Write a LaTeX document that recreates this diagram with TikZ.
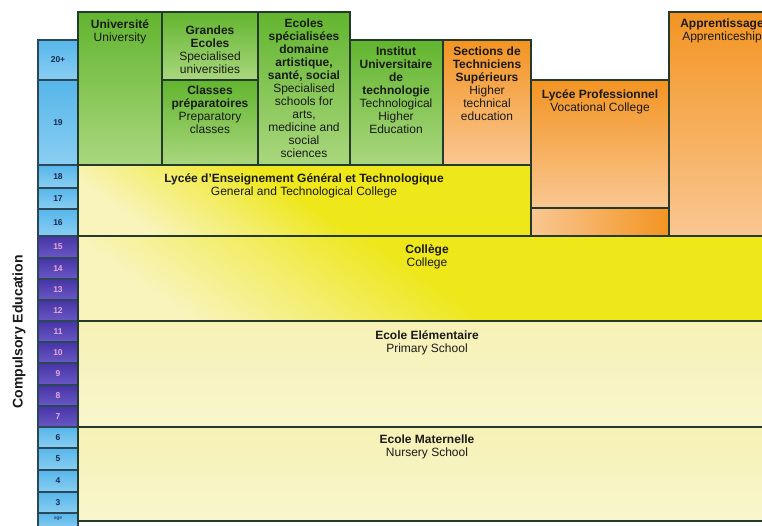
\documentclass[tikz,border=0pt]{standalone}
\usepackage{fontspec}
\setmainfont{Liberation Sans}
\definecolor{frame}{HTML}{243A2C}
\definecolor{ink}{HTML}{1A1A1A}
\definecolor{greenT}{HTML}{62B52F}
\definecolor{greenB}{HTML}{AAD77E}
\definecolor{orangeT}{HTML}{F39422}
\definecolor{orangeB}{HTML}{F9C792}
\definecolor{yel}{HTML}{EEE71A}
\definecolor{paleY}{HTML}{F8F4BC}
\definecolor{cream}{HTML}{F6F1B5}
\definecolor{creamL}{HTML}{F9F6CE}
\definecolor{blueT}{HTML}{56B6EA}
\definecolor{blueB}{HTML}{8ACEF2}
\definecolor{purT}{HTML}{4634A6}
\definecolor{purB}{HTML}{6B58C6}
\definecolor{ageframe}{HTML}{2C4858}
\definecolor{agenum}{HTML}{1B2A52}
\definecolor{agepink}{HTML}{E6A8D8}
\pgfdeclareverticalshading{yelfade}{100bp}{color(0bp)=(paleY); color(25bp)=(paleY); color(38bp)=(yel!50!paleY); color(50bp)=(yel); color(100bp)=(yel)}
\newcommand{\tb}[1]{\textbf{#1}}
\begin{document}
\begin{tikzpicture}[x=1pt,y=-1pt,
  box/.style={draw=frame, line width=1.6pt, rectangle, inner sep=0pt, outer sep=0pt, anchor=north west},
  greenbox/.style={box, top color=greenT, bottom color=greenB},
  orangebox/.style={box, top color=orangeT, bottom color=orangeB},
  yellowbox/.style={box, shading=yelfade, shading angle=-35},
  creambox/.style={box, top color=cream, bottom color=creamL},
  lbl/.style={inner sep=0pt, anchor=north, align=center, text=ink, font=\fontsize{12}{13}\selectfont},
  agecell/.style={draw=ageframe, line width=1.2pt, rectangle, inner sep=0pt, outer sep=0pt,
    anchor=north west, minimum width=40pt, font=\fontsize{8.5}{9}\selectfont\bfseries},
  agelight/.style={agecell, top color=blueT, bottom color=blueB, text=agenum},
  agedark/.style={agecell, top color=purT, bottom color=purB, text=agepink},
]
\useasboundingbox (0,0) rectangle (762,525);
\clip (0,0) rectangle (762,525);
\fill[white] (0,0) rectangle (762,525);

% age scale on the left
\foreach \i/\lab/\ya/\yb/\st in {
  1/20+/40/80/agelight, 2/19/80/165/agelight, 3/18/165/188/agelight,
  4/17/188/209/agelight, 5/16/209/236/agelight,
  6/15/236/258/agedark, 7/14/258/279/agedark, 8/13/279/300/agedark,
  9/12/300/321/agedark, 10/11/321/342/agedark, 11/10/342/363/agedark,
  12/9/363/385/agedark, 13/8/385/406/agedark, 14/7/406/427/agedark,
  15/6/427/448/agelight, 16/5/448/470/agelight, 17/4/470/492/agelight,
  18/3/492/513/agelight}
  \node[\st, minimum height={\yb-\ya}] (age\i) at (38,\ya) {\lab};
\node[agelight, minimum height=16pt, font=\fontsize{5}{5}\selectfont] (age19) at (38,513) {\raisebox{5pt}{age}};

\node[rotate=90, font=\fontsize{14}{14}\selectfont\bfseries, text=ink] (compulsory) at (19,332) {Compulsory Education};

% higher education
\node[greenbox, minimum width=84pt, minimum height=153pt] (univ) at (78,12) {};
\node[greenbox, minimum width=96pt, minimum height=68pt] (grandes) at (162,12) {};
\node[greenbox, minimum width=96pt, minimum height=85pt] (prepa) at (162,80) {};
\node[greenbox, minimum width=92pt, minimum height=153pt] (ecoles) at (258,12) {};
\node[greenbox, minimum width=93pt, minimum height=125pt] (iut) at (350,40) {};
\node[orangebox, minimum width=88pt, minimum height=125pt] (sts) at (443,40) {};
\node[orangebox, minimum width=138pt, minimum height=128pt] (lpro) at (531,80) {};
\node[box, left color=orangeB, right color=orangeT, minimum width=138pt, minimum height=28pt] (lprob) at (531,208) {};
\node[orangebox, minimum width=110pt, minimum height=224pt] (appr) at (669,12) {};

% secondary and primary
\node[yellowbox, minimum width=453pt, minimum height=71pt] (legt) at (78,165) {};
\node[yellowbox, minimum width=700pt, minimum height=85pt] (college) at (78,236) {};
\node[creambox, minimum width=700pt, minimum height=106pt] (elem) at (78,321) {};
\node[creambox, minimum width=700pt, minimum height=94pt] (mat) at (78,427) {};

% labels
\node[lbl] (univ-t) at (120,19) {\tb{Université}\\University};
\node[lbl] (grandes-t) at (210,26) {\tb{Grandes}\\\tb{Ecoles}\\Specialised\\universities};
\node[lbl] (prepa-t) at (210,86) {\tb{Classes}\\\tb{préparatoires}\\Preparatory\\classes};
\node[lbl] (ecoles-t) at (304,19) {\tb{Ecoles}\\\tb{spécialisées}\\\tb{domaine}\\\tb{artistique,}\\\tb{santé, social}\\Specialised\\schools for\\arts,\\medicine and\\social\\sciences};
\node[lbl] (iut-t) at (396,47) {\tb{Institut}\\\tb{Universitaire}\\\tb{de}\\\tb{technologie}\\Technological\\Higher\\Education};
\node[lbl] (sts-t) at (487,47) {\tb{Sections de}\\\tb{Techniciens}\\\tb{Supérieurs}\\Higher\\technical\\education};
\node[lbl] (lpro-t) at (600,89) {\tb{Lycée Professionnel}\\Vocational College};
\node[lbl] (appr-t) at (722,19) {\tb{Apprentissage}\\Apprenticeship};
\node[lbl] (legt-t) at (304,173) {\tb{Lycée d'Enseignement Général et Technologique}\\General and Technological College};
\node[lbl] (college-t) at (427,244) {\tb{Collège}\\College};
\node[lbl] (elem-t) at (427,330) {\tb{Ecole Elémentaire}\\Primary School};
\node[lbl] (mat-t) at (427,435) {\tb{Ecole Maternelle}\\Nursery School};
\end{tikzpicture}
\end{document}
